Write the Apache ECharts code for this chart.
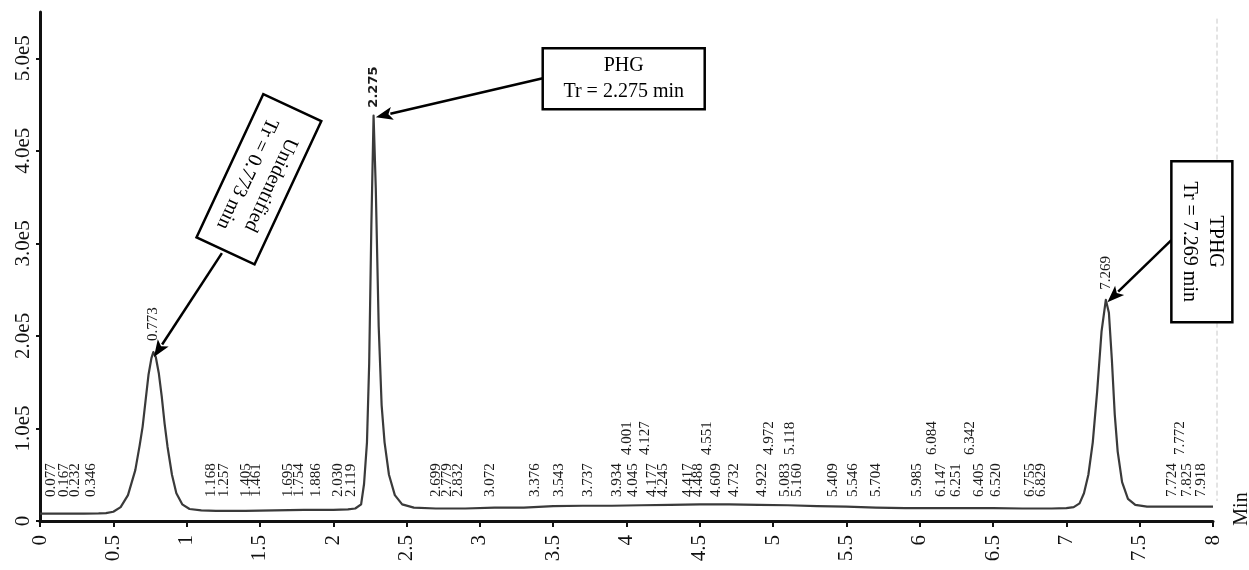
<!DOCTYPE html>
<html>
<head>
<meta charset="utf-8">
<script src="https://cdn.jsdelivr.net/npm/echarts@6/dist/echarts.min.js"></script>
<style>html,body{margin:0;padding:0;background:#fff}#c{width:1249px;height:570px}</style>
</head>
<body>
<div id="c"></div>
<script>
// ---- data ----
const signalTime = [
  0, 0.1, 0.2, 0.3, 0.4, 0.45, 0.5, 0.55, 0.6, 0.65,
  0.68, 0.7, 0.72, 0.74, 0.76, 0.773, 0.79, 0.81, 0.83, 0.85,
  0.87, 0.9, 0.93, 0.97, 1.02, 1.1, 1.2, 1.4, 1.6, 1.8,
  2.0, 2.1, 2.15, 2.19, 2.21, 2.23, 2.245, 2.26, 2.275, 2.29,
  2.31, 2.33, 2.35, 2.38, 2.42, 2.47, 2.55, 2.7, 2.9, 3.1,
  3.3, 3.5, 3.7, 3.9, 4.1, 4.3, 4.5, 4.7, 4.9, 5.1,
  5.3, 5.5, 5.7, 5.9, 6.1, 6.3, 6.5, 6.7, 6.9, 7.0,
  7.05, 7.09, 7.12, 7.15, 7.18, 7.21, 7.24, 7.269, 7.29, 7.31,
  7.33, 7.35, 7.38, 7.42, 7.47, 7.55, 7.7, 7.85, 8.0
];
const signalValue = [
  8000, 8000, 8000, 8000, 8200, 8500, 10000, 15000, 28000, 55000,
  82000, 102000, 130000, 158000, 176000, 182500, 177000, 160000, 135000, 105000,
  80000, 50000, 30000, 18000, 13000, 11500, 11000, 11000, 11500, 12000,
  12000, 12500, 13500, 18000, 40000, 85000, 170000, 320000, 438000, 360000,
  210000, 125000, 85000, 50000, 28000, 18000, 14500, 13500, 13500, 14500,
  14500, 16000, 16500, 16500, 17000, 17500, 18000, 18000, 17500, 17000,
  16000, 15500, 14500, 14000, 14000, 14000, 14000, 13500, 13500, 14000,
  15000, 19000, 30000, 50000, 85000, 140000, 205000, 239000, 225000, 175000,
  115000, 75000, 42000, 24000, 17500, 15500, 15500, 15500, 15500
];
const rtLabelsLow = [
  '0.077','0.167','0.232','0.346','1.168','1.257','1.405','1.461','1.695','1.754',
  '1.886','2.030','2.119','2.699','2.779','2.832','3.072','3.376','3.543','3.737',
  '3.934','4.045','4.177','4.245','4.417','4.488','4.609','4.732','4.922','5.083',
  '5.160','5.409','5.546','5.704','5.985','6.147','6.251','6.405','6.520','6.755',
  '6.829','7.724','7.825','7.918'
];
const rtLabelsHigh = ['4.001','4.127','4.551','4.972','5.118','6.084','6.342','7.772'];
const peakLabels = ['0.773','2.275','7.269'];
const annotationLines = [
  ['Unidentified', 'Tr = 0.773 min'],
  ['PHG', 'Tr = 2.275 min'],
  ['TPHG', 'Tr = 7.269 min']
];
const annotationCenter = [[1.493, 369300], [3.981, 477900], [7.924, 301800]];
const arrowFrom = [[1.2406, 289400], [3.429, 478400], [7.716, 303500]];
const arrowTo = [[0.777, 177100], [2.290, 436300], [7.280, 236500]];
const xAxisName = 'Min';

// ---- styles ----
const SERIF = '"Liberation Serif", "Times New Roman", serif';
const boxSize = [[158, 64], [162, 61], [161, 61]];
const boxAngleDeg = [-115, 0, -90];
const peakGap = [11, 8, 10];

const chart = echarts.init(document.getElementById('c'), null, {renderer: 'canvas'});

const baseOption = {
  animation: false,
  backgroundColor: '#fff',
  grid: {left: 40, right: 36, top: 12, bottom: 49, containLabel: false, outerBoundsMode: 'none'},
  xAxis: {
    type: 'value', min: 0, max: 8, interval: 0.5,
    axisLine: {show: true, onZero: false, lineStyle: {color: '#111', width: 3}},
    axisTick: {show: true, length: 6, lineStyle: {color: '#111', width: 2}},
    axisLabel: {rotate: 90, margin: 14, fontFamily: SERIF, fontSize: 21, color: '#111'},
    splitLine: {show: false}
  },
  yAxis: {
    type: 'value', min: 0, max: 550000, interval: 100000,
    axisLine: {show: true, onZero: false, lineStyle: {color: '#111', width: 3}},
    axisTick: {show: true, length: 4, lineStyle: {color: '#111', width: 2}},
    axisLabel: {
      rotate: 90, margin: 6, fontFamily: SERIF, fontSize: 21, color: '#111',
      showMaxLabel: false,
      formatter: function (v) {
        if (v === 0) return '0';
        if (v % 100000 !== 0) return '';
        return (v / 100000).toFixed(1) + 'e5';
      }
    },
    splitLine: {show: false}
  },
  series: [{
    type: 'line',
    data: signalTime.map((t, i) => [t, signalValue[i]]),
    showSymbol: false,
    smooth: false,
    lineStyle: {color: '#3a3a3a', width: 2.2, join: 'round'},
    silent: true,
    z: 3
  }]
};
chart.setOption(baseOption);

// ---- label placement (computed from the axes) ----
const px0 = chart.convertToPixel({xAxisIndex: 0}, 0);
const px1 = chart.convertToPixel({xAxisIndex: 0}, 1);
const pxPerUnit = px1 - px0;
const minGap = 10.5 / pxPerUnit;

const labelItems = [];
function spread(list, gapPx, font) {
  let last = -Infinity;
  list.forEach(s => {
    const t = Math.max(parseFloat(s), last + minGap);
    last = t;
    labelItems.push({t: t, v: 0, gap: gapPx, text: s, font: font});
  });
}
spread(rtLabelsLow, 24, '15px ' + SERIF);
spread(rtLabelsHigh, 66, '15px ' + SERIF);
peakLabels.forEach((s, i) => {
  const t = parseFloat(s);
  const idx = signalTime.indexOf(t);
  const apex = signalValue[idx];
  const font = (s === '2.275') ? 'bold 13px "DejaVu Sans", sans-serif' : '15px ' + SERIF;
  labelItems.push({t: t, v: apex, gap: peakGap[i], text: s, font: font});
});

function renderLabel(params, api) {
  const d = labelItems[params.dataIndex];
  const p = api.coord([d.t, d.v]);
  return {
    type: 'text', x: p[0], y: p[1] - d.gap, rotation: Math.PI / 2, silent: true,
    style: {
      text: d.text, fill: '#1a1a1a', font: d.font,
      align: 'left', verticalAlign: 'middle', textAlign: 'left', textVerticalAlign: 'middle'
    }
  };
}

// ---- annotation graphics ----
const graphics = [];
const end8 = chart.convertToPixel({gridIndex: 0}, [8, 0]);
const top8 = chart.convertToPixel({gridIndex: 0}, [8, 545000]);
graphics.push({
  type: 'line', z: 1, silent: true,
  shape: {x1: end8[0] + 4, y1: top8[1] + 2, x2: end8[0] + 4, y2: end8[1] - 20},
  style: {stroke: '#c8c8c8', lineWidth: 1, lineDash: [5, 3]}
});
annotationLines.forEach((lines, i) => {
  const c = chart.convertToPixel({gridIndex: 0}, annotationCenter[i]);
  const w = boxSize[i][0], h = boxSize[i][1];
  graphics.push({
    type: 'group', x: c[0], y: c[1], rotation: boxAngleDeg[i] * Math.PI / 180, z: 100,
    children: [
      {type: 'rect', shape: {x: -w / 2, y: -h / 2, width: w, height: h},
       style: {fill: '#fff', stroke: '#000', lineWidth: 2.5}, z: 100},
      {type: 'text', x: 0, y: 0, z: 101,
       style: {text: lines.join('\n'), font: '20px ' + SERIF, fill: '#000', lineHeight: 26,
               align: 'center', verticalAlign: 'middle', textAlign: 'center', textVerticalAlign: 'middle'}}
    ]
  });
  const a = chart.convertToPixel({gridIndex: 0}, arrowFrom[i]);
  const b = chart.convertToPixel({gridIndex: 0}, arrowTo[i]);
  const dx = b[0] - a[0], dy = b[1] - a[1];
  const len = Math.sqrt(dx * dx + dy * dy);
  const ux = dx / len, uy = dy / len;
  const L = 17, W = 6.5;
  const bx = b[0] - ux * L, by = b[1] - uy * L;
  graphics.push({
    type: 'line', z: 90, silent: true,
    shape: {x1: a[0], y1: a[1], x2: bx + ux * 2, y2: by + uy * 2},
    style: {stroke: '#000', lineWidth: 2.5}
  });
  graphics.push({
    type: 'polygon', z: 90, silent: true,
    shape: {points: [[b[0], b[1]], [bx - uy * W, by + ux * W], [bx + ux * 4, by + uy * 4], [bx + uy * W, by - ux * W]]},
    style: {fill: '#000'}
  });
});
graphics.push({
  type: 'text', x: end8[0] + 29, y: end8[1] - 12, rotation: Math.PI / 2, z: 100,
  style: {text: xAxisName, font: '20px ' + SERIF, fill: '#111',
          align: 'center', verticalAlign: 'middle', textAlign: 'center', textVerticalAlign: 'middle'}
});

chart.setOption({
  series: [baseOption.series[0], {
    type: 'custom',
    coordinateSystem: 'cartesian2d',
    data: labelItems.map(d => [d.t, d.v]),
    renderItem: renderLabel,
    clip: false,
    silent: true,
    z: 5
  }],
  graphic: graphics
});
</script>
</body>
</html>
